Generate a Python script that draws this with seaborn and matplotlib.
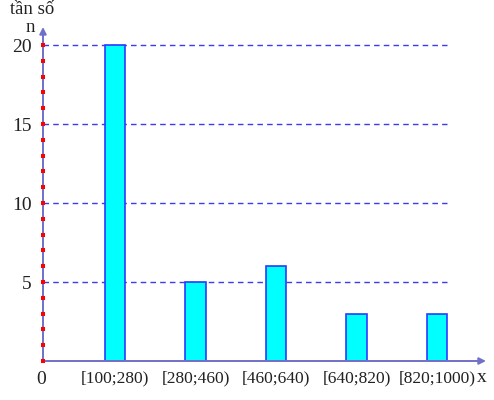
import matplotlib
matplotlib.use("Agg")
import matplotlib.pyplot as plt
import seaborn as sns
import numpy as np

categories = ["[100;280)", "[280;460)", "[460;640)", "[640;820)", "[820;1000)"]
frequencies = [20, 5, 6, 3, 3]
grid_levels = [5, 10, 15, 20]
y_tick_labels = ["5", "10", "15", "20"]

sns.set_theme(style="white")
plt.rcParams['font.family'] = ['Liberation Serif', 'DejaVu Serif']

fig = plt.figure(figsize=(4.94, 4.0), dpi=100)
ax = fig.add_axes([43/494, 39/400, (486-43)/494, (361-27)/400])

sns.barplot(x=categories, y=frequencies, color="#00ffff", saturation=1,
            width=0.25, edgecolor="#2a3cff", linewidth=1.2, ax=ax, zorder=3)

xl = (-0.894, 4.608)
ax.set_xlim(*xl)
ax.set_ylim(0, 21.14)

for lv in grid_levels:
    ax.plot([xl[0], 4.124], [lv, lv], linestyle=(0, (4, 3)), color="#3b3bf0",
            linewidth=1.0, zorder=2)

for s in ax.spines.values():
    s.set_visible(False)

# axes with arrows
ax.annotate("", xy=(xl[1], 0), xytext=(xl[0], 0),
            arrowprops=dict(arrowstyle="-|>", color="#7070c8", lw=1.4,
                            mutation_scale=10, shrinkA=0, shrinkB=0), zorder=4,
            annotation_clip=False)
ax.annotate("", xy=(xl[0], 21.14), xytext=(xl[0], 0),
            arrowprops=dict(arrowstyle="-|>", color="#7070c8", lw=1.4,
                            mutation_scale=10, shrinkA=0, shrinkB=0), zorder=4,
            annotation_clip=False)

# red dots on y axis
ys = np.arange(0, 21)
ax.scatter(np.full(len(ys), xl[0]), ys, s=5, marker="s", color="red",
           linewidths=0, zorder=5, clip_on=False)

ax.set_yticks(grid_levels)
ax.set_yticklabels(y_tick_labels, fontsize=14)
ax.tick_params(axis="y", length=0, pad=8, labelcolor="#222222")
ax.tick_params(axis="x", length=0, pad=7, labelsize=12.5, labelcolor="#222222")
ax.set_xlabel("")
ax.set_ylabel("")

fig.text(41/494, 1 - 379/400, "0", ha="center", va="center", fontsize=14, color="#222222")
fig.text(482/494, 1 - 378/400, "x", ha="center", va="center", fontsize=14, color="#222222")
fig.text(32/494, 1 - 9/400, "tần số", ha="center", va="center", fontsize=13.5, color="#222222")
fig.text(30/494, 1 - 27/400, "n", ha="center", va="center", fontsize=13.5, color="#222222")

fig.savefig("out.png", dpi=100)
